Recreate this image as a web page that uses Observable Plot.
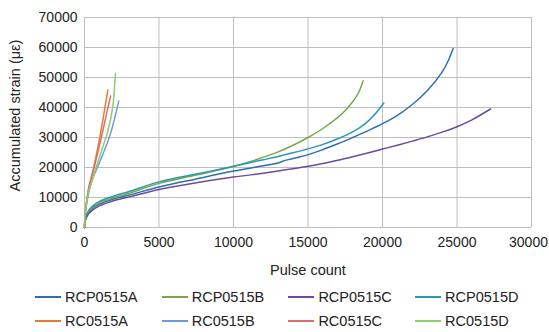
<!DOCTYPE html>
<html>
<head>
<meta charset="utf-8">
<script src="https://cdn.jsdelivr.net/npm/d3@7"></script>
<script src="https://cdn.jsdelivr.net/npm/@observablehq/plot@0.6"></script>
<style>
  html, body { margin: 0; padding: 0; background: #fff; }
  #wrap { position: relative; width: 549px; height: 332px; font-family: 'Liberation Sans', Arial, sans-serif; }
  #legend { position: relative; width: 549px; height: 50px; }
  .item { position: absolute; display: flex; align-items: center; font-size: 14.5px; color: #222; white-space: nowrap; }
  .swatch { width: 26px; height: 2px; margin-right: 4px; }
  svg text { font-family: 'Liberation Sans', Arial, sans-serif; }
</style>
</head>
<body>
<div id="wrap"><div id="chart"></div><div id="legend"></div></div>
<script>
// Series names and colours
const seriesNames = ["RCP0515A", "RCP0515B", "RCP0515C", "RCP0515D", "RC0515A", "RC0515B", "RC0515C", "RC0515D"];
const seriesColors = ["#2f6fae", "#78a84b", "#6a4c9c", "#2a98b0", "#e87b32", "#6d9bd9", "#d96e6c", "#8ccd6c"];

// Pulse count (x) and accumulated strain (y) per series
const rcp0515A_x = [0, 50, 200, 500, 1000, 2000, 3000, 5000, 7500, 10000, 12000, 13000, 13400, 14000, 15000, 16000, 17000, 18000, 19000, 20000, 21000, 22000, 23000, 24000, 24400, 24740];
const rcp0515A_y = [0, 2500, 4500, 6200, 7800, 9600, 10800, 13500, 16200, 18800, 20600, 21500, 22300, 23000, 24300, 26000, 27900, 30000, 32200, 34600, 37400, 41000, 45600, 51800, 55500, 59700];

const rcp0515B_x = [0, 50, 200, 500, 1000, 2000, 3000, 5000, 7500, 10000, 11140, 13000, 14000, 15000, 16000, 17000, 17500, 18000, 18400, 18700];
const rcp0515B_y = [0, 2500, 4600, 6500, 8200, 10000, 11400, 14700, 17500, 20300, 22000, 25200, 27400, 30000, 33000, 36700, 39000, 41900, 45000, 48900];

const rcp0515C_x = [0, 50, 200, 500, 1000, 2000, 3000, 5000, 7500, 10000, 12000, 13000, 14000, 15000, 16000, 17000, 18000, 19000, 20000, 21000, 22000, 23000, 24000, 25000, 26000, 27250];
const rcp0515C_y = [0, 2200, 4000, 5600, 7200, 9000, 10200, 12700, 14900, 16800, 18100, 18850, 19600, 20400, 21300, 22400, 23600, 24850, 26150, 27450, 28800, 30200, 31800, 33600, 35900, 39500];

const rcp0515D_x = [0, 50, 200, 500, 1000, 2000, 3000, 5000, 7500, 10000, 11000, 12000, 13000, 14000, 15000, 16000, 17000, 18000, 18500, 19000, 19500, 20090];
const rcp0515D_y = [0, 2800, 5000, 7000, 8700, 10500, 12000, 15200, 17800, 20400, 21500, 22600, 23700, 24900, 26200, 27700, 29600, 31900, 33400, 35300, 37800, 41500];

const rc0515A_x = [0, 50, 150, 290, 625, 1070, 1565];
const rc0515A_y = [0, 5000, 9000, 13500, 20200, 31300, 45800];

const rc0515B_x = [0, 50, 150, 300, 515, 1070, 1745, 2300];
const rc0515B_y = [0, 4500, 8000, 12000, 15800, 22400, 31300, 42200];

const rc0515C_x = [0, 50, 150, 300, 650, 1150, 1745];
const rc0515C_y = [0, 5000, 9000, 13000, 20000, 30500, 43800];

const rc0515D_x = [0, 50, 150, 300, 625, 1300, 1520, 1860, 1970, 2030, 2080];
const rc0515D_y = [0, 4500, 8500, 12500, 17500, 28000, 31300, 39000, 43500, 48000, 51300];

// Axis ticks and labels
const xTicks = [0, 5000, 10000, 15000, 20000, 25000, 30000];
const yTicks = [0, 10000, 20000, 30000, 40000, 50000, 60000, 70000];
const xLabel = "Pulse count";
const yLabel = "Accumulated strain (με)";

const seriesX = [rcp0515A_x, rcp0515B_x, rcp0515C_x, rcp0515D_x, rc0515A_x, rc0515B_x, rc0515C_x, rc0515D_x];
const seriesY = [rcp0515A_y, rcp0515B_y, rcp0515C_y, rcp0515D_y, rc0515A_y, rc0515B_y, rc0515C_y, rc0515D_y];

const rows = [];
seriesNames.forEach((name, i) => {
  seriesX[i].forEach((x, j) => rows.push({series: name, x, y: seriesY[i][j]}));
});

const font = "'Liberation Sans', Arial, sans-serif";
const lastTick = xTicks[xTicks.length - 1];

const chart = Plot.plot({
  width: 549,
  height: 282,
  marginLeft: 84,
  marginRight: 18,
  marginTop: 17,
  marginBottom: 55,
  style: {fontFamily: font, fontSize: "14px", color: "#222", background: "#fff"},
  x: {domain: [0, 30000]},
  y: {domain: [0, 70000]},
  color: {domain: seriesNames, range: seriesColors},
  marks: [
    Plot.ruleX(xTicks, {stroke: "#bdbdbd", strokeWidth: 1}),
    Plot.ruleY(yTicks, {stroke: "#bdbdbd", strokeWidth: 1}),
    Plot.axisX(xTicks.slice(0, -1), {tickFormat: d => String(d), tickSize: 0, tickPadding: 10, label: null}),
    Plot.axisX([lastTick], {tickFormat: d => String(d), tickSize: 0, tickPadding: 10, label: null, dx: -3}),
    Plot.axisY(yTicks, {tickFormat: d => String(d), tickSize: 0, tickPadding: 7, label: null}),
    Plot.line(rows, {x: "x", y: "y", z: "series", stroke: "series", strokeWidth: 1.5, curve: "catmull-rom"}),
    Plot.text([xLabel], {frameAnchor: "bottom", dy: 43, lineAnchor: "middle", text: d => d, fontSize: 14.5, fill: "#222"}),
    Plot.text([yLabel], {frameAnchor: "left", dx: -69, dy: -7, rotate: -90, lineAnchor: "middle", textAnchor: "middle", text: d => d, fontSize: 14.5, fill: "#222"})
  ]
});
document.getElementById("chart").appendChild(chart);

// Legend (HTML below the SVG)
const legend = document.getElementById("legend");
seriesNames.forEach((name, i) => {
  const col = i % 4, row = Math.floor(i / 4);
  const item = document.createElement("div");
  item.className = "item";
  item.style.left = (35 + col * 126.7) + "px";
  item.style.top = (row === 0 ? 5 : 29) + "px";
  item.style.height = "20px";
  const sw = document.createElement("span");
  sw.className = "swatch";
  sw.style.background = seriesColors[i];
  const tx = document.createElement("span");
  tx.textContent = name;
  item.appendChild(sw);
  item.appendChild(tx);
  legend.appendChild(item);
});
</script>
</body>
</html>
